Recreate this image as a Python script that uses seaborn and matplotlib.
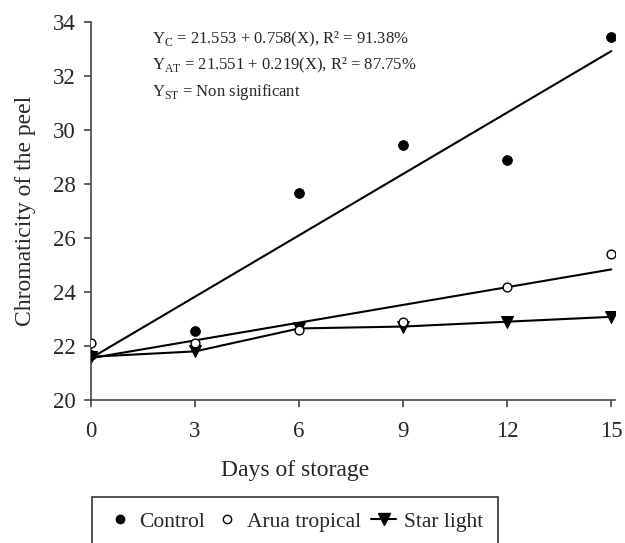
import numpy as np
import pandas as pd
import matplotlib
matplotlib.use("Agg")
import matplotlib.pyplot as plt
import seaborn as sns
from matplotlib.lines import Line2D

# dados
days = [0, 3, 6, 9, 12, 15]
control = [21.65, 22.55, 27.65, 29.45, 28.9, 33.45]
arua = [22.1, 22.1, 22.6, 22.9, 24.2, 25.4]
star = [21.6, 21.8, 22.65, 22.72, 22.9, 23.08]

# regressoes
coef_c = (21.553, 0.758)
coef_at = (21.551, 0.219)

sns.set_style("ticks")
plt.rcParams["font.family"] = ["Liberation Serif", "DejaVu Serif"]
plt.rcParams["mathtext.fontset"] = "custom"
plt.rcParams["mathtext.rm"] = "Liberation Serif"

df = pd.DataFrame({"days": days, "control": control, "arua": arua, "star": star})
fit_x = np.array([0, 15])
df_fit = pd.DataFrame({
    "x": fit_x,
    "yc": coef_c[0] + coef_c[1] * fit_x,
    "yat": coef_at[0] + coef_at[1] * fit_x,
})

fig = plt.figure(figsize=(6.25, 5.43), dpi=100)
ax = fig.add_axes([0.1456, 0.2634, 0.838, 0.696])

sns.lineplot(data=df_fit, x="x", y="yc", color="black", lw=1.5, ax=ax)
sns.lineplot(data=df_fit, x="x", y="yat", color="black", lw=1.5, ax=ax)
sns.lineplot(data=df, x="days", y="star", color="black", lw=1.5, marker="v",
             markersize=8, markeredgecolor="black", ax=ax)
sns.scatterplot(data=df, x="days", y="arua", color="white", edgecolor="black",
                linewidth=1.0, s=40, ax=ax, zorder=3)
sns.scatterplot(data=df, x="days", y="control", color="black", edgecolor="black",
                s=50, ax=ax, zorder=4)

ax.set_xlim(0, 15.1)
ax.set_ylim(20, 34)
ax.set_xticks(days)
ax.set_yticks(range(20, 35, 2))
ax.tick_params(labelsize=16.5, length=5, color="#444444", width=1.2)
ax.tick_params(axis="x", pad=10)
ax.tick_params(axis="y", pad=6)
for s in ["top", "right"]:
    ax.spines[s].set_visible(False)
for s in ["left", "bottom"]:
    ax.spines[s].set_color("#444444")
    ax.spines[s].set_linewidth(1.2)
ax.set_xlabel("Days of storage", fontsize=17)
ax.set_ylabel("Chromaticity of the peel", fontsize=17)
ax.xaxis.set_label_coords(0.389, -0.16)
ax.yaxis.set_label_coords(-0.105, 0.5)

ax.text(0.116, 0.955, r"Y$_\mathrm{C}$ = 21.553 + 0.758(X), R² = 91.38%",
        transform=ax.transAxes, fontsize=12, va="center")
ax.text(0.116, 0.885, r"Y$_\mathrm{AT}$ = 21.551 + 0.219(X), R² = 87.75%",
        transform=ax.transAxes, fontsize=12, va="center")
ax.text(0.116, 0.815, r"Y$_\mathrm{ST}$ = Non significant",
        transform=ax.transAxes, fontsize=12, va="center")

handles = [
    Line2D([], [], ls="none", marker="o", color="black", markersize=6),
    Line2D([], [], ls="none", marker="o", markerfacecolor="white",
           markeredgecolor="black", markersize=6),
    Line2D([], [], ls="-", marker="v", color="black", markersize=8, lw=1.5),
]
leg = fig.legend(handles, ["Control", "Arua tropical", "Star light"],
                 loc="upper center", bbox_to_anchor=(0.472, 0.085), ncol=3,
                 fontsize=15.5, frameon=True, fancybox=False, handlelength=1.15,
                 handletextpad=0.35, columnspacing=0.45, borderpad=0.7,
                 borderaxespad=0.0)
leg.get_frame().set_edgecolor("black")
leg.get_frame().set_linewidth(1.2)

fig.savefig("out.png", dpi=100)
